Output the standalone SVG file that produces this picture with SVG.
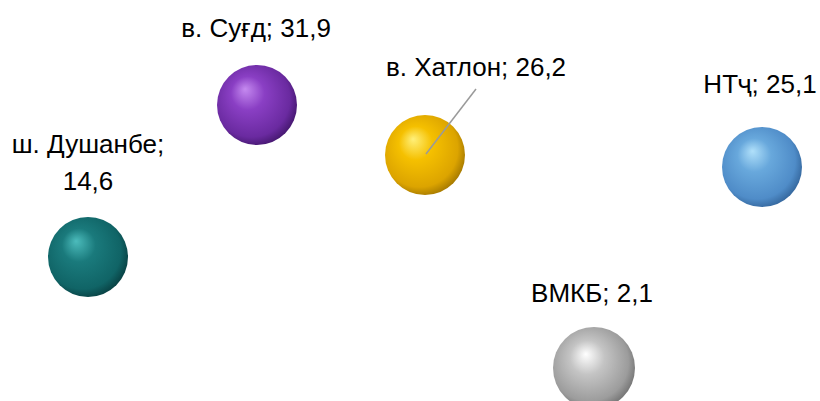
<svg xmlns="http://www.w3.org/2000/svg" width="820" height="401" viewBox="0 0 820 401">
<style>
  .lbl { font-family: "Liberation Sans", Arial, sans-serif; font-size: 26px; fill: #000; text-anchor: middle; }
  .lead { stroke: #9a9a9a; stroke-width: 1.5; fill: none; }
</style>
<defs>
  <radialGradient id="gPurple" cx="0.45" cy="0.45" r="0.6" fx="0.35" fy="0.3">
    <stop offset="0" stop-color="#c58af0"/>
    <stop offset="0.35" stop-color="#8a3fc4"/>
    <stop offset="0.8" stop-color="#6a2aa0"/>
    <stop offset="1" stop-color="#3e1466"/>
  </radialGradient>
  <radialGradient id="gYellow" cx="0.45" cy="0.45" r="0.6" fx="0.35" fy="0.3">
    <stop offset="0" stop-color="#fff07a"/>
    <stop offset="0.35" stop-color="#f5c000"/>
    <stop offset="0.8" stop-color="#dca400"/>
    <stop offset="1" stop-color="#9a7000"/>
  </radialGradient>
  <radialGradient id="gTeal" cx="0.45" cy="0.45" r="0.6" fx="0.35" fy="0.3">
    <stop offset="0" stop-color="#4cbcbc"/>
    <stop offset="0.35" stop-color="#1a7a7c"/>
    <stop offset="0.8" stop-color="#106466"/>
    <stop offset="1" stop-color="#073a3c"/>
  </radialGradient>
  <radialGradient id="gGray" cx="0.45" cy="0.45" r="0.6" fx="0.4" fy="0.33">
    <stop offset="0" stop-color="#ffffff"/>
    <stop offset="0.35" stop-color="#c4c4c4"/>
    <stop offset="0.8" stop-color="#9c9c9c"/>
    <stop offset="1" stop-color="#6c6c6c"/>
  </radialGradient>
  <radialGradient id="gBlue" cx="0.45" cy="0.45" r="0.6" fx="0.38" fy="0.3">
    <stop offset="0" stop-color="#b0e0fa"/>
    <stop offset="0.35" stop-color="#68a8dc"/>
    <stop offset="0.8" stop-color="#4f8cc8"/>
    <stop offset="1" stop-color="#2f5f94"/>
  </radialGradient>
</defs>
<rect width="820" height="401" fill="#ffffff"/>
<g id="node-sughd">
  <circle cx="257" cy="105" r="40" fill="url(#gPurple)"/>
  <text class="lbl" x="256" y="37">в. Суғд; 31,9</text>
</g>
<g id="node-khatlon">
  <circle cx="425" cy="155" r="40" fill="url(#gYellow)"/>
  <text class="lbl" x="476" y="76">в. Хатлон; 26,2</text>
</g>
<g id="node-dushanbe">
  <circle cx="88" cy="257" r="40" fill="url(#gTeal)"/>
  <text class="lbl" x="88" y="153">ш. Душанбе;</text>
  <text class="lbl" x="88" y="190">14,6</text>
</g>
<g id="node-vmkb">
  <circle cx="594" cy="368" r="41" fill="url(#gGray)"/>
  <text class="lbl" x="592" y="302">ВМКБ; 2,1</text>
</g>
<g id="node-ntch">
  <circle cx="762" cy="167" r="40" fill="url(#gBlue)"/>
  <text class="lbl" x="760" y="93">НТҷ; 25,1</text>
</g>
<g id="connectors">
  <line class="lead" x1="476" y1="89" x2="426" y2="154"/>
</g>
</svg>
